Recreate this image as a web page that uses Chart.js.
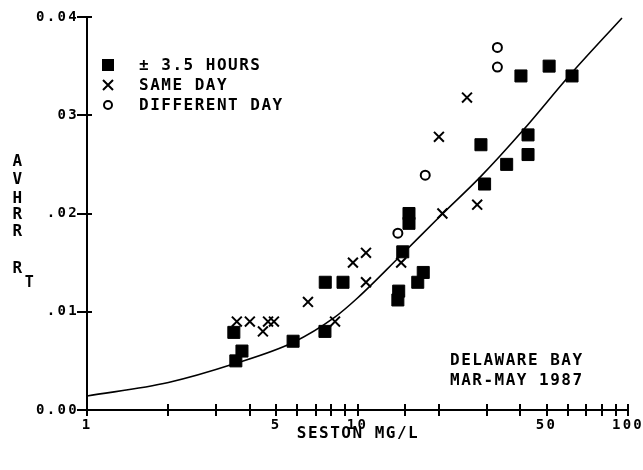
<!DOCTYPE html>
<html>
<head>
<meta charset="utf-8">
<script src="https://cdn.jsdelivr.net/npm/chart.js@4.4.1/dist/chart.umd.min.js"></script>
<style>
html,body{margin:0;padding:0;background:#fff;}
#wrap{width:643px;height:470px;}
</style>
</head>
<body>
<div id="wrap"><canvas id="c" width="643" height="470"></canvas></div>
<script>
// ---- data ----
const squareX = [3.49, 3.55, 3.74, 5.78, 7.58, 7.6, 8.84, 14.2, 14.1, 14.7, 15.5, 15.5, 16.7, 17.5, 28.6, 29.5, 35.6, 40.2, 42.7, 42.7, 51.1, 62.1];
const squareY = [0.0079, 0.0050, 0.0060, 0.0070, 0.0080, 0.0130, 0.0130, 0.0121, 0.0112, 0.0161, 0.0200, 0.0190, 0.0130, 0.0140, 0.0270, 0.0230, 0.0250, 0.0340, 0.0280, 0.0260, 0.0350, 0.0340];

const crossX = [3.58, 4.0, 4.47, 4.67, 4.91, 6.56, 8.26, 9.62, 10.75, 10.75, 14.5, 20.0, 20.6, 25.4, 27.7];
const crossY = [0.0090, 0.0090, 0.0080, 0.0090, 0.0090, 0.0110, 0.0090, 0.0150, 0.0160, 0.0130, 0.0150, 0.0278, 0.0200, 0.0318, 0.0209];

const circleX = [14.1, 17.8, 32.9, 32.9];
const circleY = [0.0180, 0.0239, 0.0349, 0.0369];

const curveX = [1, 2, 3.5, 5.8, 8.2, 10, 14.3, 20.5, 28.4, 41, 61, 95];
const curveY = [0.00142, 0.0028, 0.0047, 0.0069, 0.0094, 0.0114, 0.0156, 0.0199, 0.0237, 0.0285, 0.0341, 0.0399];

const xTickValues = [1, 5, 10, 50, 100];
const xTickLabels = ['1', '5', '10', '50', '100'];
const yTickLabels = ['0.00', '.01', '.02', '03', '0.04'];

const seriesNames = ['\u00B1 3.5 HOURS', 'SAME DAY', 'DIFFERENT DAY'];
const xTitle = 'SESTON MG/L';
const yTitleLetters = ['A', 'V', 'H', 'R', 'R'];
const noteLines = ['DELAWARE BAY', 'MAR-MAY 1987'];

const toPts = (xs, ys) => xs.map((x, i) => ({x: x, y: ys[i]}));

const FONT = '"DejaVu Sans Mono", "Liberation Mono", monospace';

const decor = {
  id: 'decor',
  beforeDraw(chart) {
    chart.ctx.letterSpacing = '2.3px';
  },
  afterDraw(chart) {
    const ctx = chart.ctx;
    const xs = chart.scales.x, ys = chart.scales.y;
    ctx.save();
    ctx.strokeStyle = '#000';
    ctx.fillStyle = '#000';
    ctx.lineWidth = 2;
    // crossing tick marks
    xs.ticks.forEach(t => {
      const px = Math.round(xs.getPixelForValue(t.value));
      ctx.beginPath(); ctx.moveTo(px, ys.bottom - 6); ctx.lineTo(px, ys.bottom + 6); ctx.stroke();
    });
    ys.ticks.forEach(t => {
      const py = Math.round(ys.getPixelForValue(t.value));
      ctx.beginPath(); ctx.moveTo(xs.left - 10, py); ctx.lineTo(xs.left + 5, py); ctx.stroke();
    });
    // texts
    ctx.letterSpacing = '1.5px';
    ctx.font = 'bold 16px ' + FONT;
    ctx.textBaseline = 'middle';
    ctx.textAlign = 'left';
    // legend
    const lx = 108, ly = [65, 85, 105];
    ctx.fillRect(lx - 6, ly[0] - 6, 12, 12);
    ctx.beginPath();
    ctx.moveTo(lx - 5, ly[1] - 5); ctx.lineTo(lx + 5, ly[1] + 5);
    ctx.moveTo(lx + 5, ly[1] - 5); ctx.lineTo(lx - 5, ly[1] + 5);
    ctx.stroke();
    ctx.beginPath(); ctx.arc(lx, ly[2], 4, 0, Math.PI * 2); ctx.stroke();
    seriesNames.forEach((s, i) => ctx.fillText(s, 139, ly[i] + 1));
    // note
    noteLines.forEach((s, i) => ctx.fillText(s, 450, 361 + i * 19.5));
    // x title
    ctx.textAlign = 'center';
    ctx.fillText(xTitle, 358, 434);
    // y title stacked
    const yy = [161, 179, 197.5, 214, 231];
    yTitleLetters.forEach((c, i) => ctx.fillText(c, 18, yy[i] + 1));
    ctx.fillText('R', 18, 268.5);
    ctx.font = 'bold 15px ' + FONT;
    ctx.fillText('T', 30, 283.5);
    ctx.restore();
  }
};

new Chart(document.getElementById('c'), {
  type: 'scatter',
  data: {
    datasets: [
      {
        label: 'fit', data: toPts(curveX, curveY), showLine: true,
        borderColor: '#000', borderWidth: 1.6, pointRadius: 0,
        cubicInterpolationMode: 'monotone', fill: false, order: 3
      },
      {
        label: seriesNames[0], data: toPts(squareX, squareY), pointStyle: 'rect',
        pointRadius: 8.5, backgroundColor: '#000', borderColor: '#000', borderWidth: 1, order: 2
      },
      {
        label: seriesNames[1], data: toPts(crossX, crossY), pointStyle: 'crossRot',
        pointRadius: 7, borderColor: '#000', backgroundColor: '#000', borderWidth: 2, order: 1
      },
      {
        label: seriesNames[2], data: toPts(circleX, circleY), pointStyle: 'circle',
        pointRadius: 4.5, borderColor: '#000', backgroundColor: 'rgba(0,0,0,0)', borderWidth: 2, order: 1
      }
    ]
  },
  options: {
    responsive: false,
    animation: false,
    devicePixelRatio: 1,
    layout: { padding: { left: 0, right: 15, top: 17, bottom: 0 } },
    plugins: { legend: { display: false }, tooltip: { enabled: false } },
    scales: {
      x: {
        type: 'logarithmic', min: 1, max: 100,
        grid: { display: false, drawTicks: false },
        border: { display: true, color: '#000', width: 2 },
        ticks: {
          autoSkip: false, maxRotation: 0, padding: 7, color: '#000',
          font: { family: FONT, size: 14, weight: 'bold' },
          callback: (v) => {
            const i = xTickValues.findIndex(t => Math.abs(t - v) < 1e-6);
            return i >= 0 ? xTickLabels[i] : '';
          }
        },
        afterFit: (s) => { s.height = 60; s.paddingLeft = 0; s.paddingRight = 0; }
      },
      y: {
        type: 'linear', min: 0, max: 0.04,
        grid: { display: false, drawTicks: false },
        border: { display: true, color: '#000', width: 2 },
        ticks: {
          stepSize: 0.01, padding: 8, color: '#000',
          font: { family: FONT, size: 14, weight: 'bold' },
          callback: (v, i) => yTickLabels[i]
        },
        afterFit: (s) => { s.width = 87; s.paddingTop = 0; s.paddingBottom = 0; }
      }
    }
  },
  plugins: [decor]
});
</script>
</body>
</html>
